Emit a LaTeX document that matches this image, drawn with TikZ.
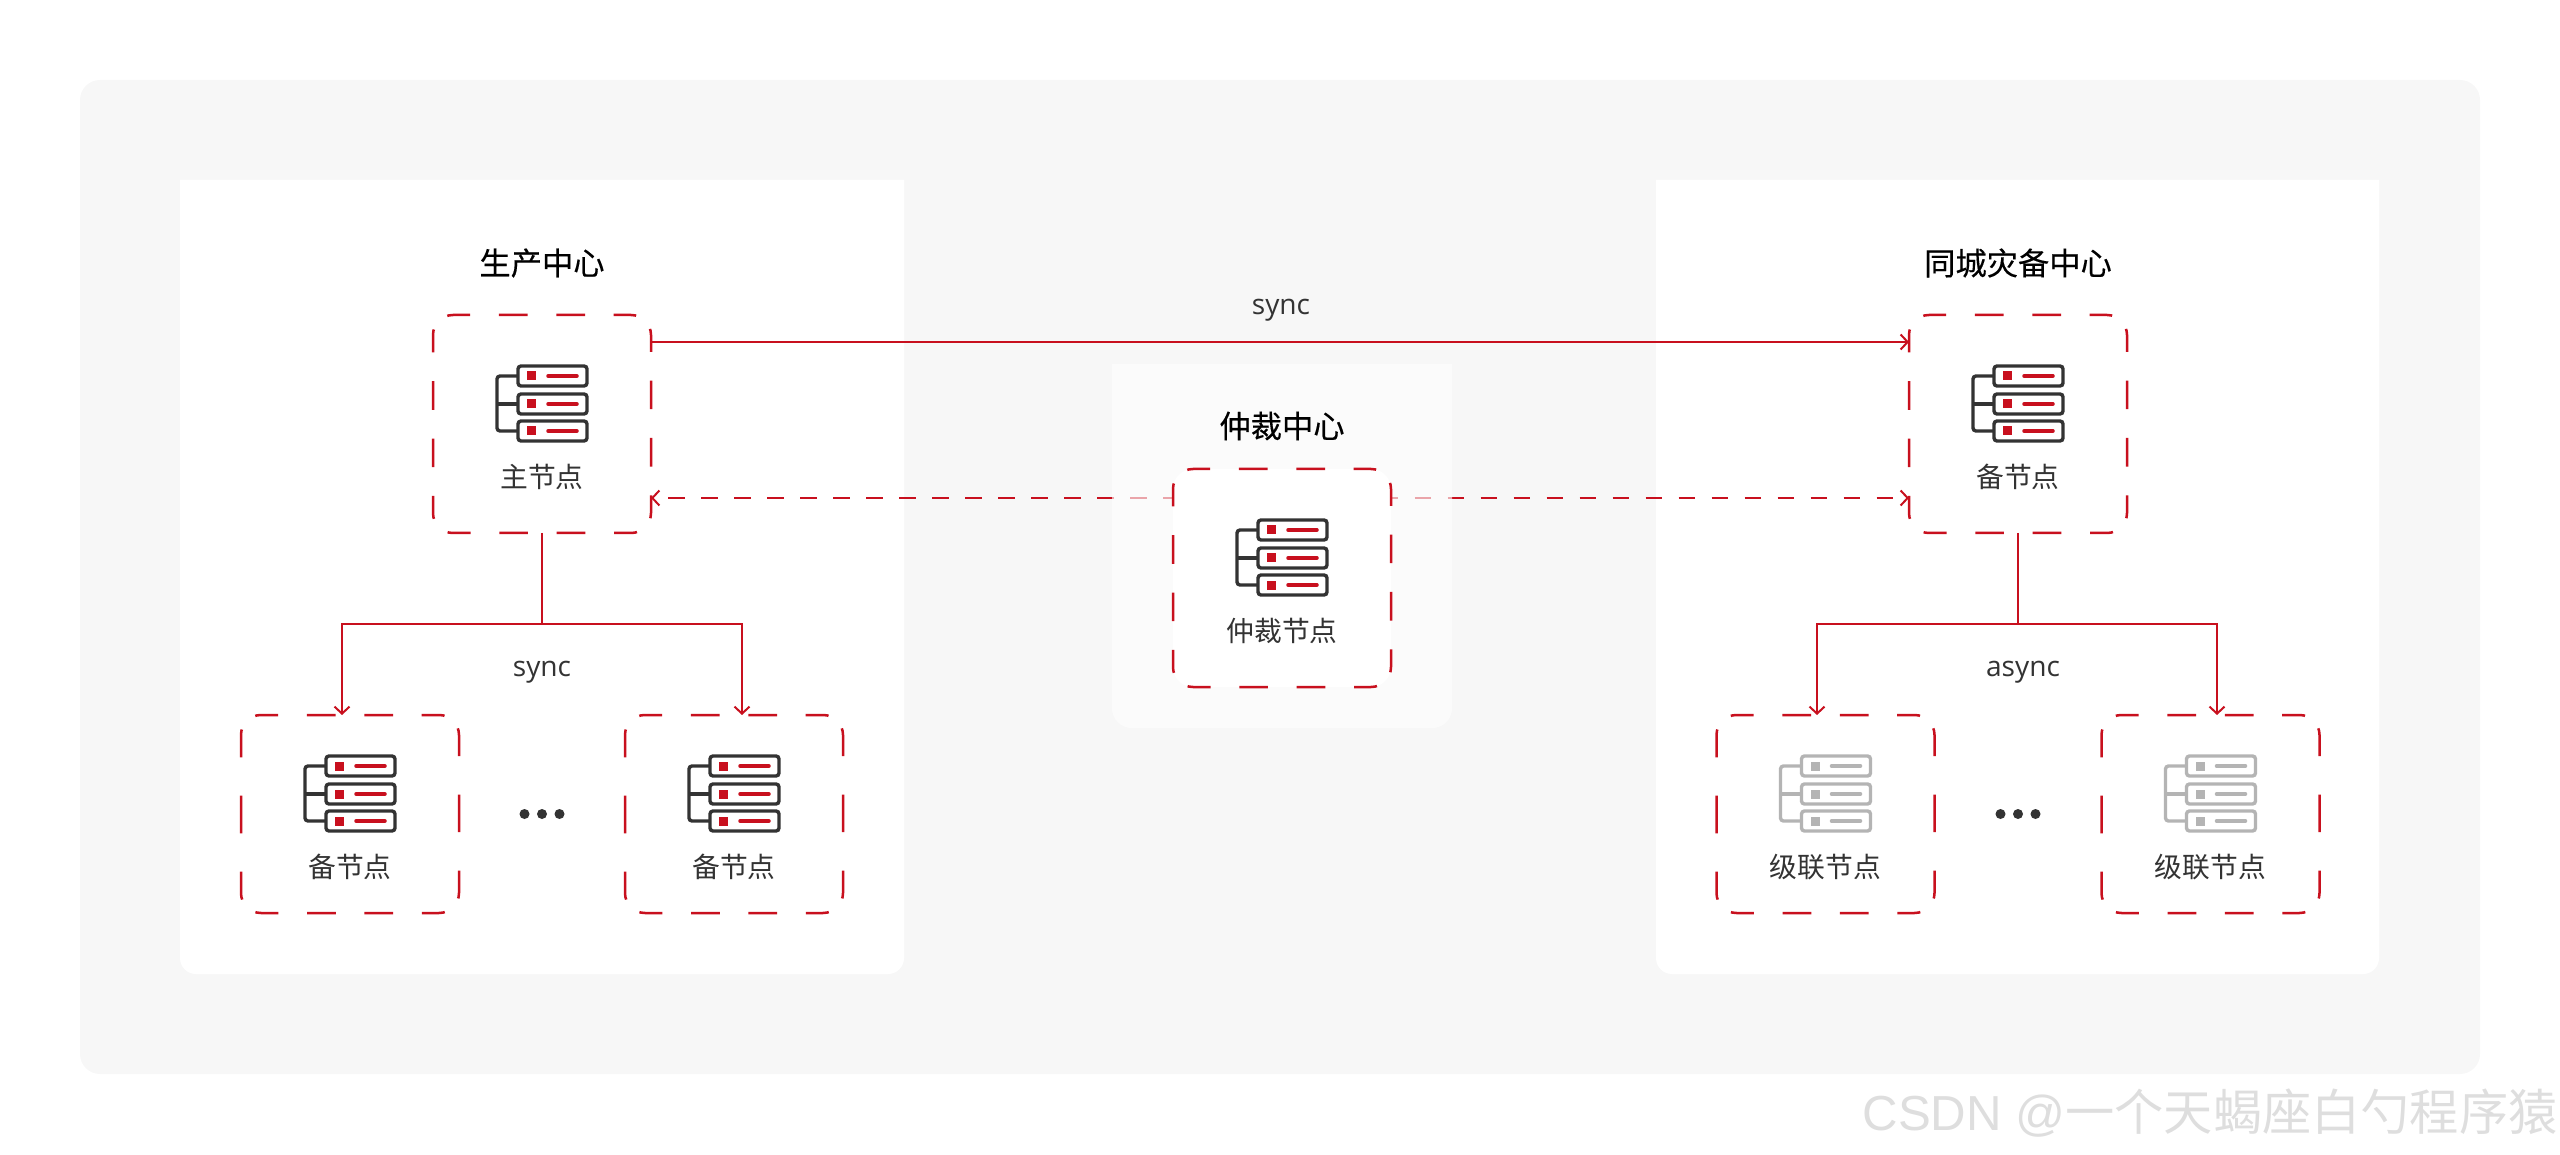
\documentclass[tikz,border=0pt]{standalone}
\usepackage{fontspec}
\setmainfont{Noto Sans CJK SC}
\newfontfamily\titlefont[FakeBold=0.3]{Noto Sans CJK SC}
\newfontfamily\latinfont{Open Sans}
\newfontfamily\markfont{Liberation Sans}
\usetikzlibrary{arrows.meta}
\definecolor{linered}{HTML}{C8101E}
\definecolor{panelgray}{HTML}{F7F7F7}
\definecolor{textgray}{HTML}{333333}
\definecolor{fadegray}{HTML}{B4B4B4}
\pgfdeclarelayer{panels}
\pgfdeclarelayer{links}
\pgfdeclarelayer{veil}
\pgfsetlayers{panels,links,veil,main}
\tikzset{
  hostbox/.style={draw=linered, fill=white, line width=0.025cm, rounded corners=0.2cm, inner sep=0pt, outer sep=0pt,
    minimum width=2.18cm, minimum height=2.18cm,
    dash pattern=on .23cm off .287cm on .287cm off .287cm on .287cm off .287cm on .23cm off .20cm, dash phase=.057cm},
  subbox/.style={hostbox, minimum height=1.98cm,
    dash pattern=on .23cm off .287cm on .287cm off .287cm on .287cm off .287cm on .23cm off .20cm on .28cm off .383cm on .377cm off .383cm on .28cm off .19cm, dash phase=.057cm},
  link/.style={draw=linered, line width=0.02cm},
  tip/.style={link, -{Straight Barb[length=0.07cm, width=0.15cm, line width=0.02cm]}},
  quorum/.style={tip, dash pattern=on .165cm off .165cm},
  hostlabel/.style={font=\fontsize{7.9pt}{9pt}\selectfont, text=textgray},
  title/.style={font=\titlefont\fontsize{8.9pt}{10pt}\selectfont, text=black},
  linklabel/.style={font=\latinfont\fontsize{8pt}{9pt}\selectfont, text=textgray},
  pics/rack/.style n args={2}{code={
    \foreach \y in {.48,.20,-.07} {
      \draw[#1, line width=0.034cm, rounded corners=0.03cm] (-.24,\y-.1) rectangle (.45,\y+.1);
      \fill[#2] (-.15,\y-.045) rectangle (-.06,\y+.045);
      \draw[#2, line width=0.035cm, line cap=round] (.06,\y) -- (.35,\y);
    }
    \draw[#1, line width=0.034cm, rounded corners=0.03cm] (-.24,.48) -- (-.45,.48) -- (-.45,-.07) -- (-.24,-.07);
    \draw[#1, line width=0.034cm] (-.45,.20) -- (-.24,.20);
  }}
}
\begin{document}
\begin{tikzpicture}
\useasboundingbox (0,0) rectangle (25.6,11.54);

\node[hostbox] (P) at (5.42,7.30) {};
\node[hostbox] (S) at (20.18,7.30) {};
\node[hostbox] (M) at (12.82,5.76) {};
\node[subbox] (P1) at (3.50,3.40) {};
\node[subbox] (P2) at (7.34,3.40) {};
\node[subbox] (S1) at (18.255,3.40) {};
\node[subbox] (S2) at (22.105,3.40) {};

\pic at (P) {rack={textgray}{linered}};
\pic at (S) {rack={textgray}{linered}};
\pic at (M) {rack={textgray}{linered}};
\pic at (P1) {rack={textgray}{linered}};
\pic at (P2) {rack={textgray}{linered}};
\pic at (S1) {rack={fadegray}{fadegray}};
\pic at (S2) {rack={fadegray}{fadegray}};

\node[hostlabel] (Pl) at ([yshift=-.53cm]P) {主节点};
\node[hostlabel] (Sl) at ([yshift=-.53cm]S) {备节点};
\node[hostlabel] (Ml) at ([yshift=-.53cm]M) {仲裁节点};
\node[hostlabel] (P1l) at ([yshift=-.53cm]P1) {备节点};
\node[hostlabel] (P2l) at ([yshift=-.53cm]P2) {备节点};
\node[hostlabel] (S1l) at ([yshift=-.53cm]S1) {级联节点};
\node[hostlabel] (S2l) at ([yshift=-.53cm]S2) {级联节点};

\node[title] (Pt) at (5.42,8.91) {生产中心};
\node[title] (St) at (20.18,8.91) {同城灾备中心};
\node[title] (Mt) at (12.82,7.28) {仲裁中心};

\node[linklabel] (sync0) at (12.81,8.44) {sync};
\node[linklabel] (sync1) at (5.42,4.82) {sync};
\node[linklabel] (sync2) at (20.23,4.82) {async};

\foreach \x in {5.245,5.42,5.595,20.005,20.18,20.355}
  \fill[textgray] (\x,3.40) circle (0.05);

\node[font=\fontsize{14pt}{16pt}\selectfont, text=black!13, anchor=east] (wm) at (25.70,0.41) {{\markfont CSDN @}一个天蝎座白勺程序猿};

\begin{pgfonlayer}{panels}
\fill[panelgray, rounded corners=0.2cm] (0.80,0.80) rectangle (24.80,10.74);
\fill[white, rounded corners=0.16cm] (1.80,9.74) [sharp corners] -- (9.04,9.74) [rounded corners=0.16cm] -- (9.04,1.80) -- (1.80,1.80) [sharp corners] -- cycle;
\fill[white, rounded corners=0.16cm] (16.56,9.74) [sharp corners] -- (23.79,9.74) [rounded corners=0.16cm] -- (23.79,1.80) -- (16.56,1.80) [sharp corners] -- cycle;
\end{pgfonlayer}

\begin{pgfonlayer}{veil}
\fill[white, opacity=.625, rounded corners=0.2cm] (11.12,7.90) [sharp corners] -- (14.52,7.90) [rounded corners=0.2cm] -- (14.52,4.26) -- (11.12,4.26) [sharp corners] -- cycle;
\end{pgfonlayer}

\begin{pgfonlayer}{links}
\draw[tip] ([yshift=.82cm]P.east) -- ([yshift=.82cm]S.west);
\draw[quorum, dash phase=.065cm] ([yshift=.80cm]M.west) -- ([yshift=-.74cm]P.east);
\draw[quorum, dash phase=.095cm] ([yshift=.80cm]M.east) -- ([yshift=-.74cm]S.west);
\end{pgfonlayer}

\draw[link] (P.south) -- ++(0,-.91) coordinate (Pj);
\draw[tip] (Pj) -| ([xshift=-.08cm]P1.north);
\draw[tip] (Pj) -| ([xshift=.08cm]P2.north);
\draw[link] (S.south) -- ++(0,-.91) coordinate (Sj);
\draw[tip] (Sj) -| ([xshift=-.085cm]S1.north);
\draw[tip] (Sj) -| ([xshift=.065cm]S2.north);
\end{tikzpicture}
\end{document}
